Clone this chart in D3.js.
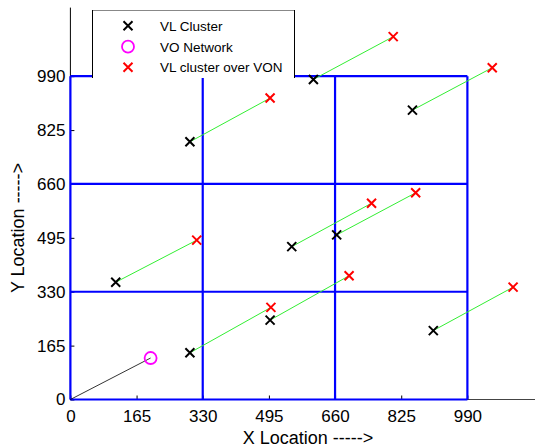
<!DOCTYPE html>
<html>
<head>
<script src="https://d3js.org/d3.v7.min.js"></script>
<style>
  body { margin: 0; background: #fff; }
  text { font-family: "Liberation Sans", Arial, sans-serif; }
</style>
</head>
<body>
<div id="chart"></div>
<script>
// data
var clusterX = [113, 298, 606, 853, 552, 664, 498, 298, 905];
var clusterY = [359, 789, 980, 886, 468, 504, 243, 143, 211];
var overX = [315, 498, 805, 1052, 751, 861, 695, 500, 1104];
var overY = [488, 923, 1111, 1016, 601, 633, 379, 282, 344];
var voX = [200];
var voY = [127];
var tickVals = [0, 165, 330, 495, 660, 825, 990];
var gridVals = [330, 660, 990];
var legendLabels = ["VL Cluster", "VO Network", "VL cluster over VON"];

var width = 535, height = 447;

var svg = d3.select("#chart").append("svg")
    .attr("width", width)
    .attr("height", height);

var x = d3.scaleLinear().domain([0, 1200]).range([70.4, 551.6]);
var y = d3.scaleLinear().domain([0, 1200]).range([399.5, 7.6]);

// axis lines
svg.append("line")
    .attr("x1", x(0)).attr("x2", x(0))
    .attr("y1", y(0)).attr("y2", y(1200))
    .attr("stroke", "#000").attr("stroke-width", 1);
svg.append("line")
    .attr("x1", x(0)).attr("x2", x(1200))
    .attr("y1", y(0)).attr("y2", y(0))
    .attr("stroke", "#444").attr("stroke-width", 1);

// ticks and labels
var xAxis = svg.append("g")
    .attr("transform", "translate(0," + y(0) + ")")
    .call(d3.axisBottom(x).tickValues(tickVals).tickSize(-4).tickPadding(10).tickFormat(d3.format("d")));
var yAxis = svg.append("g")
    .attr("transform", "translate(" + x(0) + ",0)")
    .call(d3.axisLeft(y).tickValues(tickVals).tickSize(-4).tickPadding(5).tickFormat(d3.format("d")));
[xAxis, yAxis].forEach(function(a) {
    a.select(".domain").remove();
    a.selectAll("text").attr("font-size", 17).attr("fill", "#000")
        .attr("font-family", "Liberation Sans, Arial, sans-serif");
    a.selectAll("line").attr("stroke", "#000");
});

// blue grid box
var grid = svg.append("g").attr("stroke", "#0000ff").attr("stroke-width", 2.2);
grid.selectAll(".v").data([0].concat(gridVals)).enter().append("line")
    .attr("x1", function(d) { return x(d); }).attr("x2", function(d) { return x(d); })
    .attr("y1", y(0)).attr("y2", y(990));
grid.selectAll(".h").data([0].concat(gridVals)).enter().append("line")
    .attr("y1", function(d) { return y(d); }).attr("y2", function(d) { return y(d); })
    .attr("x1", x(0)).attr("x2", x(990));

// green links
var pairs = clusterX.map(function(d, i) {
    return { x0: d, y0: clusterY[i], x1: overX[i], y1: overY[i] };
});
svg.append("g").selectAll("line").data(pairs).enter().append("line")
    .attr("x1", function(d) { return x(d.x0); })
    .attr("y1", function(d) { return y(d.y0); })
    .attr("x2", function(d) { return x(d.x1); })
    .attr("y2", function(d) { return y(d.y1); })
    .attr("stroke", "#33ee33").attr("stroke-width", 1);

// line from origin to VO network
svg.append("line")
    .attr("x1", x(0)).attr("y1", y(0))
    .attr("x2", x(voX[0])).attr("y2", y(voY[0]))
    .attr("stroke", "#000").attr("stroke-width", 0.8);

var cross = "M-4.5,-4.5L4.5,4.5M-4.5,4.5L4.5,-4.5";

svg.append("g").selectAll("path").data(clusterX).enter().append("path")
    .attr("d", cross)
    .attr("transform", function(d, i) { return "translate(" + x(d) + "," + y(clusterY[i]) + ")"; })
    .attr("stroke", "#000").attr("stroke-width", 2).attr("fill", "none");

svg.append("g").selectAll("path").data(overX).enter().append("path")
    .attr("d", cross)
    .attr("transform", function(d, i) { return "translate(" + x(d) + "," + y(overY[i]) + ")"; })
    .attr("stroke", "#ff0000").attr("stroke-width", 2).attr("fill", "none");

svg.append("circle")
    .attr("cx", x(voX[0])).attr("cy", y(voY[0])).attr("r", 6)
    .attr("fill", "none").attr("stroke", "#ff00ff").attr("stroke-width", 1.8);

// axis titles
svg.append("text")
    .attr("x", 308).attr("y", 444)
    .attr("text-anchor", "middle").attr("font-size", 18)
    .text("X Location ----->");
svg.append("text")
    .attr("transform", "translate(24,228) rotate(-90)")
    .attr("text-anchor", "middle").attr("font-size", 18)
    .text("Y Location ----->");

// legend
var lg = svg.append("g");
lg.append("rect").attr("x", 92).attr("y", 10).attr("width", 202).attr("height", 68)
    .attr("fill", "#fff");
lg.append("line").attr("x1", 92).attr("x2", 294.5).attr("y1", 10.5).attr("y2", 10.5)
    .attr("stroke", "#888");
lg.append("line").attr("x1", 92.5).attr("x2", 92.5).attr("y1", 10).attr("y2", 78)
    .attr("stroke", "#000");
lg.append("line").attr("x1", 294.5).attr("x2", 294.5).attr("y1", 10).attr("y2", 78)
    .attr("stroke", "#000");

var rows = [25.7, 46.7, 67.3];
lg.append("path").attr("d", cross).attr("transform", "translate(128," + rows[0] + ")")
    .attr("stroke", "#000").attr("stroke-width", 2).attr("fill", "none");
lg.append("circle").attr("cx", 128).attr("cy", rows[1]).attr("r", 6)
    .attr("fill", "none").attr("stroke", "#ff00ff").attr("stroke-width", 1.8);
lg.append("path").attr("d", cross).attr("transform", "translate(128," + rows[2] + ")")
    .attr("stroke", "#ff0000").attr("stroke-width", 2).attr("fill", "none");
lg.selectAll("text").data(legendLabels).enter().append("text")
    .attr("x", 160).attr("y", function(d, i) { return rows[i] + 5; })
    .attr("font-size", 13.5)
    .text(function(d) { return d; });
</script>
</body>
</html>
